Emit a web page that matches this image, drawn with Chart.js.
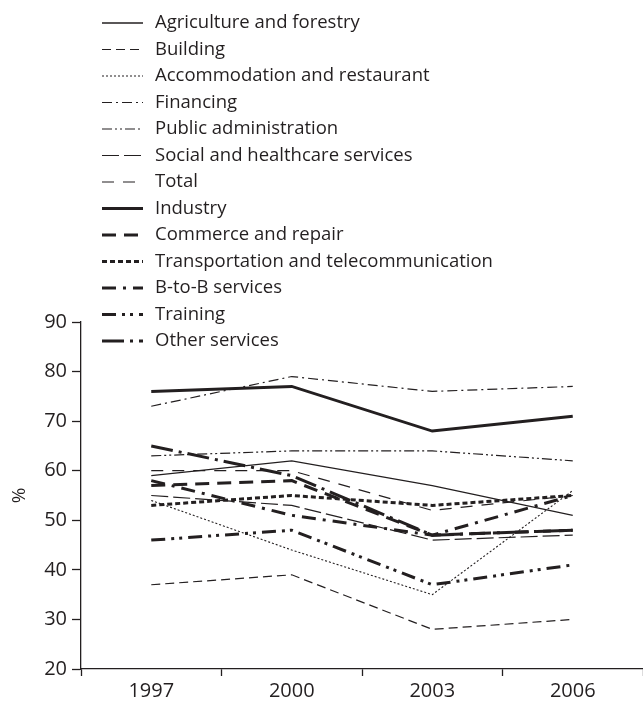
<!DOCTYPE html>
<html>
<head>
<meta charset="utf-8">
<script src="https://cdn.jsdelivr.net/npm/chart.js@4"></script>
<style>
  html, body { margin: 0; padding: 0; background: #fff; overflow: hidden; }
  #wrap { width: 643px; height: 707px; }
</style>
</head>
<body>
<div id="wrap"><canvas id="lineChart" width="643" height="707"></canvas></div>
<script>
// years and values (%)
var years = ['1997', '2000', '2003', '2006'];
var yTicks = [20, 30, 40, 50, 60, 70, 80, 90];

var agriculture = [59, 62, 57, 51];
var building = [37, 39, 28, 30];
var accommodation = [54, 44, 35, 56];
var financing = [73, 79, 76, 77];
var publicAdmin = [63, 64, 64, 62];
var social = [55, 53, 46, 47];
var total = [60, 60, 52, 55];
var industry = [76, 77, 68, 71];
var commerce = [57, 58, 47, 48];
var transport = [53, 55, 53, 55];
var b2b = [58, 51, 47, 55];
var training = [46, 48, 37, 41];
var other = [65, 59, 47, 48];

var ink = '#231f20';
var fontName = "'Open Sans', sans-serif";

function serie(label, data, width, dash) {
    return {
        label: label,
        data: data,
        borderColor: ink,
        backgroundColor: ink,
        borderWidth: width,
        borderDash: dash,
        borderCapStyle: 'butt',
        pointRadius: 0,
        tension: 0,
        fill: false
    };
}

// legend drawn as one column in the top-left corner
var columnLegend = {
    id: 'columnLegend',
    afterDraw: function(chart) {
        var ctx = chart.ctx;
        ctx.save();
        ctx.font = '18.5px ' + fontName;
        ctx.fillStyle = ink;
        ctx.textBaseline = 'middle';
        chart.data.datasets.forEach(function(ds, i) {
            var y = 23 + i * 26.5;
            ctx.beginPath();
            ctx.lineWidth = ds.borderWidth;
            ctx.strokeStyle = ink;
            ctx.setLineDash(ds.borderDash || []);
            ctx.moveTo(102, y);
            ctx.lineTo(143, y);
            ctx.stroke();
            ctx.setLineDash([]);
            ctx.fillText(ds.label, 155, y);
        });
        ctx.restore();
    }
};

var ctx = document.getElementById('lineChart').getContext('2d');
var myChart = new Chart(ctx, {
    type: 'line',
    data: {
        labels: years,
        datasets: [
            serie('Agriculture and forestry', agriculture, 1.3, []),
            serie('Building', building, 1.2, [9, 5]),
            serie('Accommodation and restaurant', accommodation, 1.1, [2, 2]),
            serie('Financing', financing, 1.2, [10, 4, 2, 4]),
            serie('Public administration', publicAdmin, 1.2, [10, 3, 2, 3, 2, 3]),
            serie('Social and healthcare services', social, 1.2, [17, 5]),
            serie('Total', total, 1.2, [12, 9]),
            serie('Industry', industry, 3, []),
            serie('Commerce and repair', commerce, 3, [14, 8]),
            serie('Transportation and telecommunication', transport, 3, [5, 3]),
            serie('B-to-B services', b2b, 3, [14, 7, 3, 7]),
            serie('Training', training, 3, [14, 6, 3, 5, 3, 6]),
            serie('Other services', other, 3, [22, 6, 3, 6])
        ]
    },
    plugins: [columnLegend],
    options: {
        responsive: false,
        animation: false,
        layout: { padding: { top: 322, right: 0, bottom: 1, left: 0 } },
        plugins: {
            legend: { display: false },
            tooltip: { enabled: false }
        },
        scales: {
            x: {
                type: 'category',
                offset: true,
                grid: {
                    offset: true,
                    drawOnChartArea: false,
                    drawTicks: true,
                    tickLength: 7,
                    tickWidth: 1.3,
                    tickColor: ink
                },
                border: { display: true, color: ink, width: 1.3 },
                ticks: {
                    color: ink,
                    padding: 3,
                    font: { family: fontName, size: 20 }
                }
            },
            y: {
                min: 20,
                max: 90,
                afterBuildTicks: function(scale) {
                    scale.ticks = yTicks.map(function(v) { return { value: v }; });
                },
                afterFit: function(scale) { scale.width = 81; },
                grid: {
                    drawOnChartArea: false,
                    drawTicks: true,
                    tickLength: 9,
                    tickWidth: 1.3,
                    tickColor: ink
                },
                border: { display: true, color: ink, width: 1.3 },
                ticks: {
                    color: ink,
                    padding: 5,
                    font: { family: fontName, size: 20 }
                },
                title: {
                    display: true,
                    text: '%',
                    color: ink,
                    padding: { top: 8, bottom: 0 },
                    font: { family: fontName, size: 19 }
                }
            }
        }
    }
});
</script>
</body>
</html>
